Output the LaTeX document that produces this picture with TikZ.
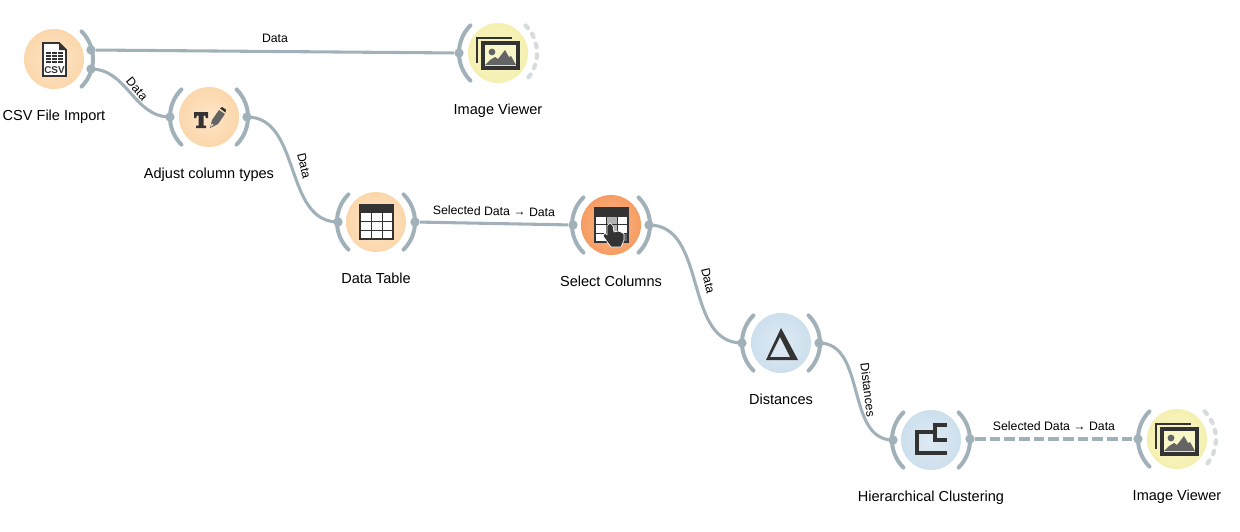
\documentclass[tikz,border=0pt]{standalone}
\usepackage{fontspec}
\setmainfont{Liberation Sans}
\usetikzlibrary{positioning}
\definecolor{linkgray}{HTML}{A1B1B9}
\definecolor{dotgray}{HTML}{D6DBDE}
\definecolor{icondark}{HTML}{333333}
\definecolor{icongray}{HTML}{646464}
\definecolor{peachin}{HTML}{FFE6C8}
\definecolor{peachout}{HTML}{FBD7AB}
\definecolor{deepin}{HTML}{FBB88C}
\definecolor{deepout}{HTML}{F69C62}
\definecolor{bluein}{HTML}{DEEAF3}
\definecolor{blueout}{HTML}{CDDFED}
\definecolor{yellowin}{HTML}{F9F6C8}
\definecolor{yellowout}{HTML}{F5F0B0}
\tikzset{
	widget/.style={circle, minimum size=45pt, inner sep=0pt},
	widgetlabel/.style={font=\fontsize{10.9pt}{12pt}\selectfont, inner sep=0pt, text height=8pt, text depth=2pt, below=15.2pt of #1},
	port/.style={circle, fill=linkgray, minimum size=7pt, inner sep=0pt},
	bracket/.style={draw=linkgray, line width=3pt, line cap=round},
	dotarc/.style={draw=dotgray, line width=3.2pt, line cap=round, dash pattern=on 2.6pt off 5.4pt},
	link/.style={draw=linkgray, line width=2.3pt},
	linklabel/.style={font=\fontsize{9.2pt}{10pt}\selectfont, inner sep=0pt},
	pics/tablegrid/.style={code={
		\fill[white] (-16,-16) rectangle (17,17);
		\fill[icondark] (-16,-17) rectangle (17,-9);
		\foreach \i in {-1,8}{\draw[icondark, line width=.75pt] (-16,\i)--(17,\i);}
		\foreach \i in {-5,6}{\draw[icondark, line width=.75pt] (\i,-9)--(\i,17);}
		\draw[icondark, line width=1pt] (-16,-17) rectangle (17,17);
	}},
	pics/csvicon/.style={code={
		\draw[icondark, fill=white, line width=1.4pt] (-11,-16)--(5,-16)--(12,-9)--(12,17)--(-11,17)--cycle;
		\fill[icondark] (5,-16)--(5,-9)--(12,-9)--cycle;
		\foreach \i in {-7,-4,-1,2}{
			\foreach \j in {-8,-2,4}{
				\fill[icondark] (\j,\i) rectangle (\j+5,\i+2.2);
			}
		}
		\node[icondark, font=\fontsize{7.4pt}{8pt}\selectfont\bfseries, inner sep=0pt] (csvtext) at (0.5,11) {CSV};
	}},
	pics/typeicon/.style={code={
		\fill[icondark] (-15,-5)--(-1,-5)--(-1,1)--(-3,1)--(-4,-1.5)--(-5.5,-1.5)--(-5.5,8.5)--(-3,8.5)--(-3,11)--(-13,11)--(-13,8.5)--(-10.5,8.5)--(-10.5,-1.5)--(-12,-1.5)--(-13,1)--(-15,1)--cycle;
		\fill[icongray] (1,11)--(3,3)--(10,-7)--(16,-3)--(9,7)--cycle;
		\fill[icondark] (11,-8.5)--(13,-10)--(17,-7.5)--(16.5,-4.5)--cycle;
		\fill[peachin] (1.8,10)--(2.7,6.5)--(4.5,7.6)--cycle;
	}},
	pics/viewericon/.style={code={
		\draw[icondark, line width=2pt] (-21,10)--(-21,-15)--(14,-15);
		\draw[icondark, fill=yellowin, line width=2.3pt] (-15,-10) rectangle (20,15);
		\fill[icongray] (-6,-1) circle (3.4);
		\fill[icongray] (-13,12)--(-8,7)--(-3,4)--(0,6)--(7,-3)--(11,4)--(13,3)--(18,12)--cycle;
	}},
}
\begin{document}
\begin{tikzpicture}[x=0.75pt, y=-0.75pt]
	\useasboundingbox (0,0) rectangle (1240,532);
	% widgets
	\foreach \name/\x/\y/\inner/\outer/\title in {
		csv/54/59/peachin/peachout/CSV File Import,
		adjust/209/117/peachin/peachout/Adjust column types,
		datatable/376/222/peachin/peachout/Data Table,
		selectcols/611/225/deepin/deepout/Select Columns,
		viewertop/498/53/yellowin/yellowout/Image Viewer,
		distances/781/343/bluein/blueout/Distances,
		clustering/931/440/bluein/blueout/Hierarchical Clustering,
		viewerend/1177/439/yellowin/yellowout/Image Viewer}{
		\node[widget, inner color=\inner, outer color=\outer] (\name) at (\x,\y) {};
		\node[widgetlabel=\name] (\name label) {\title};
	}
	% input and output brackets
	\foreach \name in {adjust,datatable,selectcols,viewertop,distances,clustering,viewerend}{
		\draw[bracket] ([shift={(135:39)}]\name.center) arc (135:225:39);
	}
	\foreach \name in {csv,adjust,datatable,selectcols,distances,clustering}{
		\draw[bracket] ([shift={(-45:39)}]\name.center) arc (-45:45:39);
	}
	\foreach \name in {viewertop,viewerend}{
		\draw[dotarc] ([shift={(-45:39)}]\name.center) arc (-45:45:39);
	}
	% ports
	\node[port] (csvouta) at (91,50) {};
	\node[port] (csvoutb) at (91,69) {};
	\node[port] (viewertopin) at (459,53) {};
	\node[port] (adjustin) at (170,117) {};
	\node[port] (adjustout) at (247,117) {};
	\node[port] (datatablein) at (338,222) {};
	\node[port] (datatableout) at (415,222) {};
	\node[port] (selectcolsin) at (573,225) {};
	\node[port] (selectcolsout) at (649,225) {};
	\node[port] (distancesin) at (742,343) {};
	\node[port] (distancesout) at (819,343) {};
	\node[port] (clusteringin) at (893,440) {};
	\node[port] (clusteringout) at (970,439) {};
	\node[port] (viewerendin) at (1138,439) {};
	% links
	\draw[link] (csvouta)--(viewertopin);
	\draw[link] (csvoutb.center) to [out=0, in=180] (adjustin.center);
	\draw[link] (adjustout.center) to [out=0, in=180] (datatablein.center);
	\draw[link] (datatableout)--(selectcolsin);
	\draw[link] (selectcolsout.center) to [out=0, in=180] (distancesin.center);
	\draw[link] (distancesout.center) to [out=0, in=180] (clusteringin.center);
	\draw[link, dash pattern=on 8pt off 3pt] (clusteringout)--(viewerendin);
	% labels:
	\node[linklabel] (toplabel) at (275,38) {Data};
	\node[linklabel, rotate=-50] (csvlabel) at (137,89) {Data};
	\node[linklabel, rotate=-77] (adjustlabel) at (304,166) {Data};
	\node[linklabel, rotate=-1] (tablelabel) at (494,211) {Selected Data → Data};
	\node[linklabel, rotate=-77] (selectlabel) at (708,281) {Data};
	\node[linklabel, rotate=-83] (distlabel) at (868,390) {Distances};
	\node[linklabel] (clusterlabel) at (1054,426) {Selected Data → Data};
	% icons
	\pic at (csv.center) {csvicon};
	\pic at (adjust.center) {typeicon};
	\pic at (datatable.center) {tablegrid};
	\pic at (viewertop.center) {viewericon};
	\pic at (viewerend.center) {viewericon};
	\begin{scope}[shift={(selectcols.center)}]
		\pic at (0,0) {tablegrid};
		\fill[gray!60] (-5,-9) rectangle (6,17);
		\fill[icongray] (6,8) rectangle (17,17);
		\draw[icondark, line width=.75pt] (-5,-9)--(-5,17) (6,-9)--(6,17) (-16,-1)--(17,-1) (-16,8)--(17,8);
		\draw[icondark, line width=1pt] (-16,-9) rectangle (17,17);
		% hand
		\draw[white, fill=icondark, line width=.5pt, line join=round] (-4,1)--(-1,-2)--(2,1)--(3,7)--(7,6)--(10,7)--(13,9)--(13,15)--(10,22)--(0,22)--(-3,18)--(-8,11)--(-6,8)--(-4,10)--cycle;
	\end{scope}
	% delta
	\fill[icondark, even odd rule] ([shift={(0,-15)}]distances.center)--([shift={(17,17)}]distances.center)--([shift={(-15,17)}]distances.center)--cycle
		([shift={(-1,-6)}]distances.center)--([shift={(9,14)}]distances.center)--([shift={(-11,14)}]distances.center)--cycle;
	% dendrogram
	\begin{scope}[shift={(clustering.center)}]
		\draw[icondark, line width=2.4pt] (16,-15)--(4,-15)--(4,0)--(16,0);
		\draw[icondark, line width=2.4pt] (4,-8)--(-14,-8)--(-14,13)--(16,13);
	\end{scope}
\end{tikzpicture}
\end{document}
